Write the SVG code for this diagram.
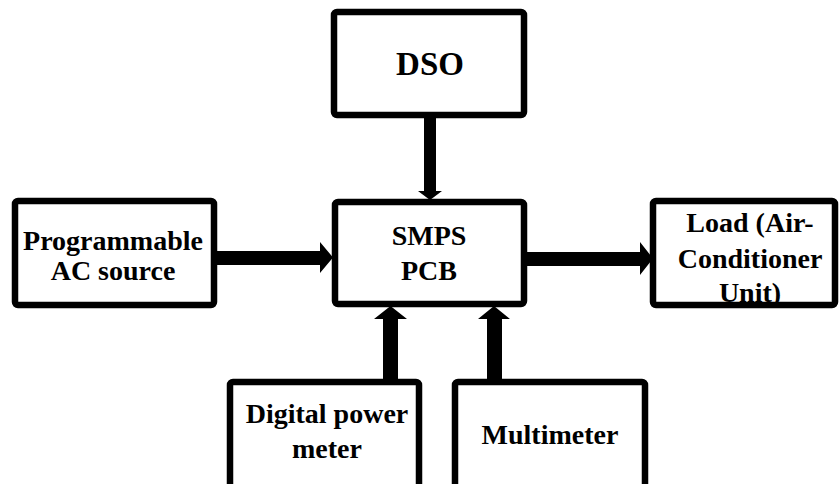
<svg xmlns="http://www.w3.org/2000/svg" width="839" height="484" viewBox="0 0 839 484">
<style>
.box{fill:#fff;stroke:#000;stroke-width:6.5;stroke-linejoin:round}
.t{font-family:'Liberation Serif',Tinos,'Times New Roman',Times,'DejaVu Serif',serif;font-weight:bold;font-size:28px;text-anchor:middle;fill:#000}
.shaft{fill:#000}
</style>
<rect width="839" height="484" fill="#fff"/>
<g id="connectors">
  <polygon class="shaft" points="424,116 436,116 436,191 442,191 430,200 418,191 424,191"/>
  <polygon class="shaft" points="215,251 320,251 320,242 333,257.5 320,273 320,265 215,265"/>
  <polygon class="shaft" points="525,252 640,252 640,242 653,258.5 640,275 640,266 525,266"/>
  <polygon class="shaft" points="383,381 398,381 398,319 407,319 390.5,306 374,319 383,319"/>
  <polygon class="shaft" points="487,381 502,381 502,319 510,319 494,306 478,319 487,319"/>
</g>
<g id="dso">
  <rect class="box" x="334" y="12" width="190" height="103" rx="3"/>
  <text class="t" x="430" y="75" font-family="Liberation Serif, serif" style="font-size:33px">DSO</text>
</g>
<g id="smps">
  <rect class="box" x="335" y="202" width="189" height="102" rx="3"/>
  <text class="t" x="429" y="245">SMPS</text>
  <text class="t" x="429" y="280">PCB</text>
</g>
<g id="ac-source">
  <rect class="box" x="15" y="201" width="199" height="104" rx="3"/>
  <text class="t" x="113" y="250">Programmable</text>
  <text class="t" x="113" y="280">AC source</text>
</g>
<g id="load">
  <rect class="box" x="653" y="201" width="182" height="104" rx="3"/>
  <text class="t" x="750" y="232">Load (Air-</text>
  <text class="t" x="750" y="268">Conditioner</text>
  <text class="t" x="750" y="302">Unit)</text>
</g>
<g id="power-meter">
  <rect class="box" x="230" y="382" width="189" height="120" rx="3"/>
  <text class="t" x="327" y="423">Digital power</text>
  <text class="t" x="327" y="458">meter</text>
</g>
<g id="multimeter">
  <rect class="box" x="455" y="382" width="190" height="120" rx="3"/>
  <text class="t" x="550" y="444">Multimeter</text>
</g>
</svg>
